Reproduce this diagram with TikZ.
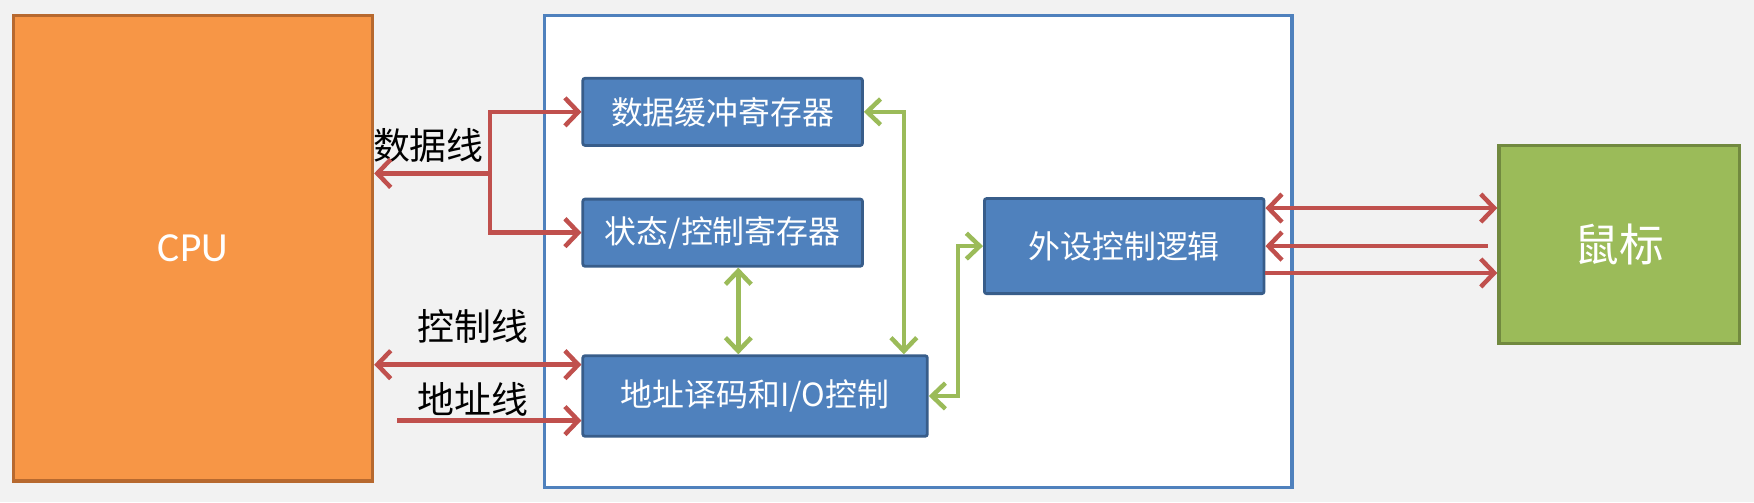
\documentclass[tikz,border=0pt]{standalone}
\usepackage{fontspec}
\newfontfamily\cjk{Noto Sans CJK SC}
\newfontfamily\cpufont{Carlito}
\usetikzlibrary{arrows.meta,calc}
\definecolor{bgcol}{HTML}{F2F2F2}
\definecolor{cpufill}{HTML}{F79646}
\definecolor{cpuline}{HTML}{B7692F}
\definecolor{boxfill}{HTML}{4F81BD}
\definecolor{boxline}{HTML}{385D8A}
\definecolor{redline}{HTML}{C0504D}
\definecolor{greenline}{HTML}{9BBB59}
\definecolor{mousefill}{HTML}{9BBB59}
\definecolor{mouseline}{HTML}{71893F}
\tikzset{
  blockbox/.style={draw=boxline, line width=2.5pt, fill=boxfill, rounded corners=2pt,
    text=white, font=\cjk\fontsize{28.5}{32}\selectfont, inner sep=0pt},
  busarrow/.style={draw=redline, line width=4pt,
    arrows={Straight Barb[length=12pt,width=25pt,line width=4pt]-Straight Barb[length=12pt,width=25pt,line width=4pt]}},
  linkarrow/.style={draw=greenline, line width=4pt,
    arrows={Straight Barb[length=12pt,width=23pt,line width=4pt]-Straight Barb[length=12pt,width=23pt,line width=4pt]}},
  onlyend/.style={arrows={-Straight Barb[length=12pt,width=25pt,line width=4pt]}},
  buslabel/.style={font=\cjk\fontsize{33}{38}\selectfont, text=black, inner sep=0pt}
}
\begin{document}
\begin{tikzpicture}[x=1pt,y=-1pt]
\fill[bgcol] (0,0) rectangle (1568,449);
\useasboundingbox (0,0) rectangle (1568,449);

% main blocks
\node[draw=cpuline, line width=3pt, fill=cpufill, minimum width=321pt, minimum height=416pt,
  text=white, font=\cpufont\fontsize{37}{42}\selectfont, inner sep=0pt] (cpu) at (172.5,222) {CPU};
\node[draw=boxfill, line width=3pt, fill=white, minimum width=668pt, minimum height=422pt, inner sep=0pt]
  (iface) at (821,225) {};
\node[draw=mouseline, line width=3pt, fill=mousefill, minimum width=215pt, minimum height=177pt,
  text=white, font=\cjk\fontsize{40}{46}\selectfont, inner sep=0pt] (mouse) at (1447.5,218.5) {鼠标};

% inner blocks
\node[blockbox, minimum width=250pt, minimum height=60pt] (buf) at (646,100) {数据缓冲寄存器};
\node[blockbox, minimum width=250pt, minimum height=60pt] (stat) at (646,208) {状态/控制寄存器};
\node[blockbox, minimum width=308pt, minimum height=72pt] (addr) at (675,354) {地址译码和I/O控制};
\node[blockbox, minimum width=250pt, minimum height=85pt] (ext) at (1005,220) {外设控制逻辑};

% labels
\node[buslabel] (ldata) at (383,130) {数据线};
\node[buslabel] (lctl) at (423,292) {控制线};
\node[buslabel] (laddr) at (423,357) {地址线};

% data bus
\coordinate (branch) at (438,155);
\draw[busarrow, onlyend] (branch) -- (branch -| cpu.east);
\draw[busarrow, onlyend] (branch) |- (buf.west);
\draw[busarrow, onlyend] (branch) |- (stat.west);

% control and address bus
\coordinate (ctlin) at ($(addr.west)+(0,-28)$);
\coordinate (adrin) at ($(addr.west)+(0,22)$);
\coordinate (adrstart) at (355,376);
\draw[busarrow] (ctlin -| cpu.east) -- (ctlin);
\draw[busarrow, onlyend] (adrstart) -- (adrin);

% internal links
\coordinate (vlink) at (660,0);
\draw[linkarrow] (stat.south -| vlink) -- (addr.north -| vlink);
\coordinate (rlink) at (808,0);
\draw[linkarrow] (buf.east) -| (addr.north -| rlink);
\draw[linkarrow] (addr.east) -- ++(26,0) |- (ext.west);

% device links
\coordinate (d1) at ($(ext.east)+(0,-34)$);
\coordinate (d2) at ($(ext.east)+(0,0)$);
\coordinate (d3) at ($(ext.east)+(0,24)$);
\coordinate (m2) at (1330,220);
\draw[busarrow] (d1) -- (d1 -| mouse.west);
\draw[busarrow, onlyend] (m2) -- (d2);
\draw[busarrow, onlyend] (d3) -- (d3 -| mouse.west);
\end{tikzpicture}
\end{document}
